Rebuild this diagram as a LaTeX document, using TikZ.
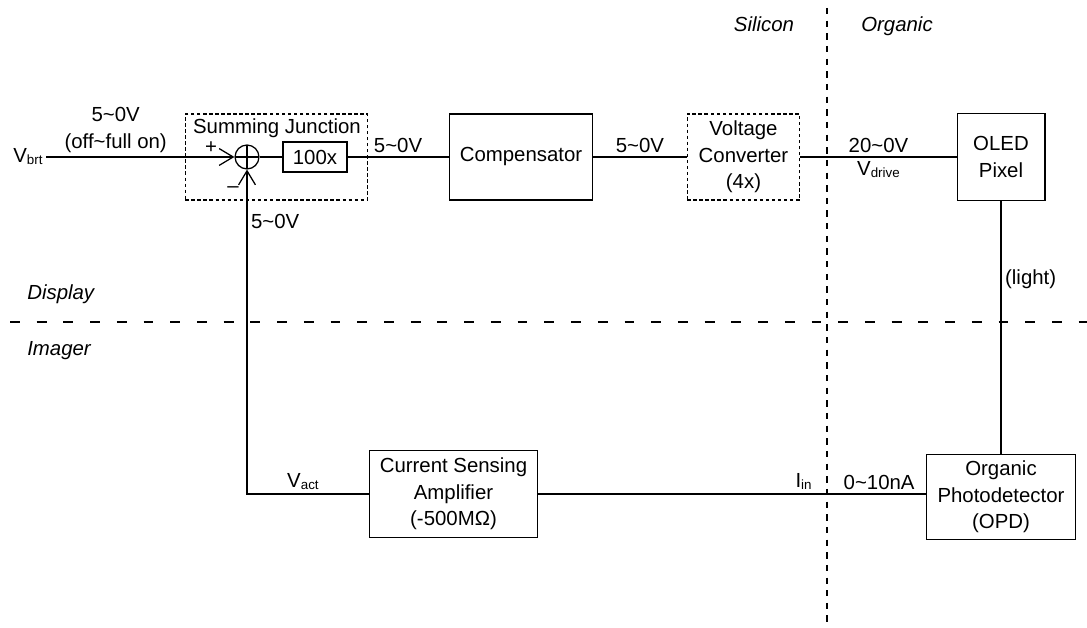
\documentclass[tikz,border=0pt]{standalone}
\usepackage{fontspec}
\setmainfont{Liberation Sans}
\usepackage{tikz}
\usetikzlibrary{arrows.meta, positioning}
\newcommand{\sbs}[1]{\raisebox{-1.5pt}{\fontsize{9.5}{10}\selectfont #1}}

\begin{document}
\begin{tikzpicture}[x=0.025cm, y=-0.025cm, line width=0.9pt,
    font=\fontsize{14.5}{19}\selectfont,
    blk/.style={draw, align=center, inner sep=0pt},
    dotblk/.style={blk, dash pattern=on 2.5pt off 1.8pt},
    junc/.style={draw, circle, minimum size=17pt, inner sep=0pt,
      path picture={\draw (path picture bounding box.north) -- (path picture bounding box.south)
        (path picture bounding box.west) -- (path picture bounding box.east);}},
    sign/.style={inner sep=0pt},
    region/.style={anchor=base, font=\fontsize{14.5}{19}\selectfont\itshape},
    lbl/.style={inner sep=2.5pt},
    divider/.style={line width=1.1pt, dash pattern=on 7pt off 12pt},
    tip/.style={-{Straight Barb[length=10pt, width=12pt]}}
  ]
  \useasboundingbox (0,0) rectangle (1087,628);

  % display / imager and silicon / organic
  \draw[divider] (10,322) -- (1087,322);
  \draw[divider, dash pattern=on 4.5pt off 4.5pt] (827,8) -- (827,626);
  \node[region] (silicon) at (764,32) {Silicon};
  \node[region] (organic) at (897,32) {Organic};
  \node[region, anchor=base west] (display) at (22,300) {Display};
  \node[region, anchor=base west] (imager) at (22,356) {Imager};

  % display path
  \node[anchor=east, inner sep=2pt] (vbrt) at (46,157) {V\sbs{brt}};
  \node[junc] (sum) at (247,157) {};
  \node[sign] (plus) at (211,148) {+};
  \node[sign] (minus) at (233,190) {\textendash};
  \node[blk, minimum width=45.4pt, minimum height=21.3pt] (gain) at (315,157) {100x};
  \node[dotblk, minimum width=129.7pt, minimum height=61pt] (sjbox) at (276.5,157) {};
  \node[anchor=base, inner sep=1pt] (sjtext) at (277,134) {Summing Junction};
  \node[blk, minimum width=102.1pt, minimum height=61pt] (comp) at (521,157) {Compensator};
  \node[dotblk, minimum width=80.1pt, minimum height=61pt] (conv) at (743.5,157) {Voltage\\Converter\\(4x)};
  \node[blk, minimum width=62.4pt, minimum height=61.7pt] (oled) at (1001,157) {OLED\\Pixel};

  % imager path
  \node[blk, minimum width=119.8pt, minimum height=61.7pt] (amp) at (453.5,494) {Current Sensing\\Amplifier\\(-500MΩ)};
  \node[blk, minimum width=106.4pt, minimum height=60.3pt] (opd) at (1001,497) {Organic\\Photodetector\\(OPD)};

  \draw[tip] (vbrt.east) -- node[lbl, above, pos=0.37, align=center] (vin) {5\textasciitilde0V\\(off\textasciitilde full on)} (sum.west);
  \draw (sum.east) -- (gain.west);
  \draw (gain.east) -- node[lbl, above] (verr) {5\textasciitilde0V} (comp.west);
  \draw (comp.east) -- node[lbl, above] (vcomp) {5\textasciitilde0V} (conv.west);
  \draw (conv.east) -- node[lbl, above] (vhigh) {20\textasciitilde0V} node[lbl, below] (vdrive) {V\sbs{drive}} (oled.west);
  \draw (oled.south) -- node[lbl, right, pos=0.31] (light) {(light)} (opd.north);
  \draw (opd.west |- amp.east) -- node[lbl, above, pos=0.12] (iopd) {0\textasciitilde10nA}
    node[lbl, above, pos=0.315] (iin) {I\sbs{in}} (amp.east);
  \draw[tip] (amp.west) -- node[lbl, above, pos=0.54] (vact) {V\sbs{act}} (sum |- amp.west)
    -- node[lbl, right, pos=0.84] (vfb) {5\textasciitilde0V} (sum.south);
\end{tikzpicture}
\end{document}
